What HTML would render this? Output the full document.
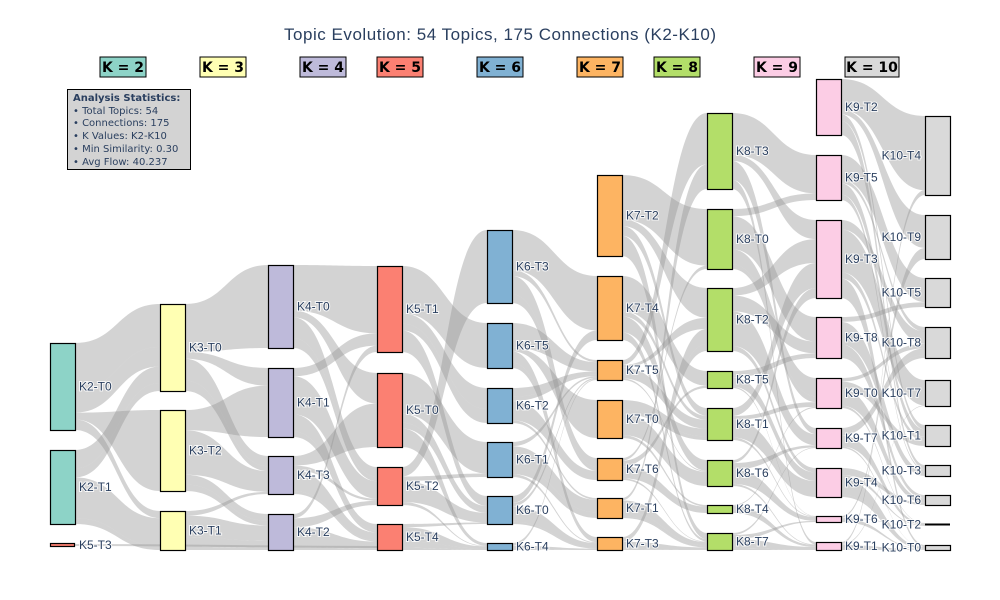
<!DOCTYPE html>
<html><head><meta charset="utf-8"><style>
html,body{margin:0;padding:0;background:#fff;}
svg{display:block;font-family:"Liberation Sans","DejaVu Sans",sans-serif;}
.lb{font-size:12px;fill:#2a3f5f;paint-order:stroke;stroke:#fff;stroke-width:2px;stroke-opacity:.8}
</style></head><body>
<svg id="s" width="1000" height="600" viewBox="0 0 1000 600" xmlns="http://www.w3.org/2000/svg">
<rect width="1000" height="600" fill="#fff"/>
<text x="500" y="40" text-anchor="middle" font-size="17" fill="#2a3f5f" textLength="432" lengthAdjust="spacing">Topic Evolution: 54 Topics, 175 Connections (K2-K10)</text>
<g id="links"></g><g id="nodes"></g>
<g font-weight="bold" font-size="14" fill="#000" text-anchor="middle" font-family="DejaVu Sans, sans-serif">
<rect x="100" y="57" width="46" height="20" fill="#8dd3c7" stroke="#000"/><text x="123" y="72">K = 2</text>
<rect x="200" y="57" width="46" height="20" fill="#ffffb3" stroke="#000"/><text x="223" y="72">K = 3</text>
<rect x="300" y="57" width="46" height="20" fill="#bebada" stroke="#000"/><text x="323" y="72">K = 4</text>
<rect x="377" y="57" width="46" height="20" fill="#fb8072" stroke="#000"/><text x="400" y="72">K = 5</text>
<rect x="477" y="57" width="46" height="20" fill="#80b1d3" stroke="#000"/><text x="500" y="72">K = 6</text>
<rect x="577" y="57" width="46" height="20" fill="#fdb462" stroke="#000"/><text x="600" y="72">K = 7</text>
<rect x="654" y="57" width="46" height="20" fill="#b3de69" stroke="#000"/><text x="677" y="72">K = 8</text>
<rect x="754" y="57" width="46" height="20" fill="#fccde5" stroke="#000"/><text x="777" y="72">K = 9</text>
<rect x="845" y="57" width="54" height="20" fill="#d9d9d9" stroke="#000"/><text x="872" y="72">K = 10</text>
</g>
<rect x="67.5" y="89.5" width="123" height="80" fill="#d3d3d3" stroke="#000"/>
<g font-size="10" fill="#2a3f5f" font-family="DejaVu Sans, sans-serif">
<text x="73" y="101" font-weight="bold">Analysis Statistics:</text>
<text x="73" y="114">• Total Topics: 54</text>
<text x="73" y="126">• Connections: 175</text>
<text x="73" y="139">• K Values: K2-K10</text>
<text x="73" y="152">• Min Similarity: 0.30</text>
<text x="73" y="165">• Avg Flow: 40.237</text>
</g>
</svg>
<script>
var cols=[
{x:50,c:"#8dd3c7",n:[["K2-T0",343,430],["K2-T1",450,524]]},
{x:160,c:"#ffffb3",n:[["K3-T0",304,391],["K3-T2",410,491],["K3-T1",511,550]]},
{x:268,c:"#bebada",n:[["K4-T0",265,348],["K4-T1",368,437],["K4-T3",456,494],["K4-T2",514,550]]},
{x:377,c:"#fb8072",n:[["K5-T1",266,352],["K5-T0",373,447],["K5-T2",467,505],["K5-T4",524,550]]},
{x:487,c:"#80b1d3",n:[["K6-T3",230,303],["K6-T5",323,368],["K6-T2",388,423],["K6-T1",442,477],["K6-T0",496,524],["K6-T4",543,550]]},
{x:597,c:"#fdb462",n:[["K7-T2",175,256],["K7-T4",276,340],["K7-T5",360,380],["K7-T0",400,438],["K7-T6",458,480],["K7-T1",498,518],["K7-T3",537,550]]},
{x:707,c:"#b3de69",n:[["K8-T3",113,189],["K8-T0",209,269],["K8-T2",288,351],["K8-T5",371,388],["K8-T1",408,440],["K8-T6",460,486],["K8-T4",505,513],["K8-T7",533,550]]},
{x:816,c:"#fccde5",n:[["K9-T2",79,135],["K9-T5",155,200],["K9-T3",220,298],["K9-T8",317,358],["K9-T0",378,408],["K9-T7",428,448],["K9-T4",468,497],["K9-T6",516,522],["K9-T1",542,550]]},
{x:925,c:"#d9d9d9",n:[["K10-T4",116,195],["K10-T9",215,259],["K10-T5",278,307],["K10-T8",327,358],["K10-T7",380,406],["K10-T1",425,446],["K10-T3",465,476],["K10-T6",495,505],["K10-T2",523,526],["K10-T0",545,550]]}];
var seed=7;function rnd(){seed=(seed*16807)%2147483647;return seed/2147483647;}
var NS="http://www.w3.org/2000/svg",L=document.getElementById("links"),N=document.getElementById("nodes");
function el(t,a,p){var e=document.createElementNS(NS,t);for(var k in a)e.setAttribute(k,a[k]);p.appendChild(e);return e;}
var W=25;
for(var i=0;i<cols.length-1;i++){
 var A=cols[i].n,B=cols[i+1].n,flows=[];
 var tA=0;A.forEach(function(n){tA+=n[2]-n[1];});
 var acc=0;
 A.forEach(function(n,si){
  var h=n[2]-n[1],mid=(acc+h/2)/tA;acc+=h;
  var p=Math.min(B.length-1,Math.floor(mid*B.length));
  var ts=[[p,0.55],[Math.floor(rnd()*B.length),0.25],[Math.floor(rnd()*B.length),0.12],[Math.min(B.length-1,p+1),0.08]];
  ts.forEach(function(t){flows.push({s:si,t:t[0],w:h*t[1]});});
 });
 var inT=B.map(function(){return 0;});flows.forEach(function(f){inT[f.t]+=f.w;});
 var so=A.map(function(n){return n[1];}),to=B.map(function(n){return n[1];});
 var fs=flows.slice().sort(function(a,b){return a.s-b.s||a.t-b.t;});
 fs.forEach(function(f){f.y0=so[f.s];so[f.s]+=f.w;f.y1=so[f.s];});
 flows.slice().sort(function(a,b){return a.t-b.t||a.s-b.s;}).forEach(function(f){var bh=B[f.t][2]-B[f.t][1];var w=f.w*bh/(inT[f.t]||1);f.z0=to[f.t];to[f.t]+=w;f.z1=to[f.t];});
 var x0=cols[i].x+W,x1=cols[i+1].x,mx=(x0+x1)/2;
 fs.forEach(function(f){
  var d="M"+x0+","+f.y0+"C"+mx+","+f.y0+" "+mx+","+f.z0+" "+x1+","+f.z0+"L"+x1+","+f.z1+"C"+mx+","+f.z1+" "+mx+","+f.y1+" "+x0+","+f.y1+"Z";
  el("path",{d:d,fill:"rgba(150,150,150,0.42)"},L);
 });
}
cols.forEach(function(c,ci){c.n.forEach(function(n){
 var h=Math.max(n[2]-n[1],2),col=c.c;
 if(n[0]=="K10-T2"){el("rect",{x:c.x,y:n[1]+0.5,width:W,height:2,fill:"#000"},N);}
 else el("rect",{x:c.x+0.5,y:n[1]+0.5,width:W,height:h,fill:col,stroke:"#000","stroke-width":1.2},N);
 var ty=(n[1]+n[2])/2+4;
 if(ci==cols.length-1)el("text",{x:c.x-4,y:ty,"text-anchor":"end","class":"lb"},N).textContent=n[0];
 else el("text",{x:c.x+W+4,y:ty,"class":"lb"},N).textContent=n[0];
});});
el("rect",{x:50.5,y:543.5,width:24,height:3,fill:"#fb8072",stroke:"#000","stroke-width":1.2},N);
el("text",{x:79,y:549,"class":"lb"},N).textContent="K5-T3";
el("path",{d:"M75,545 C230,545 230,547 377,547",stroke:"rgba(150,150,150,0.42)","stroke-width":2,fill:"none"},L);
</script>
</body></html>
